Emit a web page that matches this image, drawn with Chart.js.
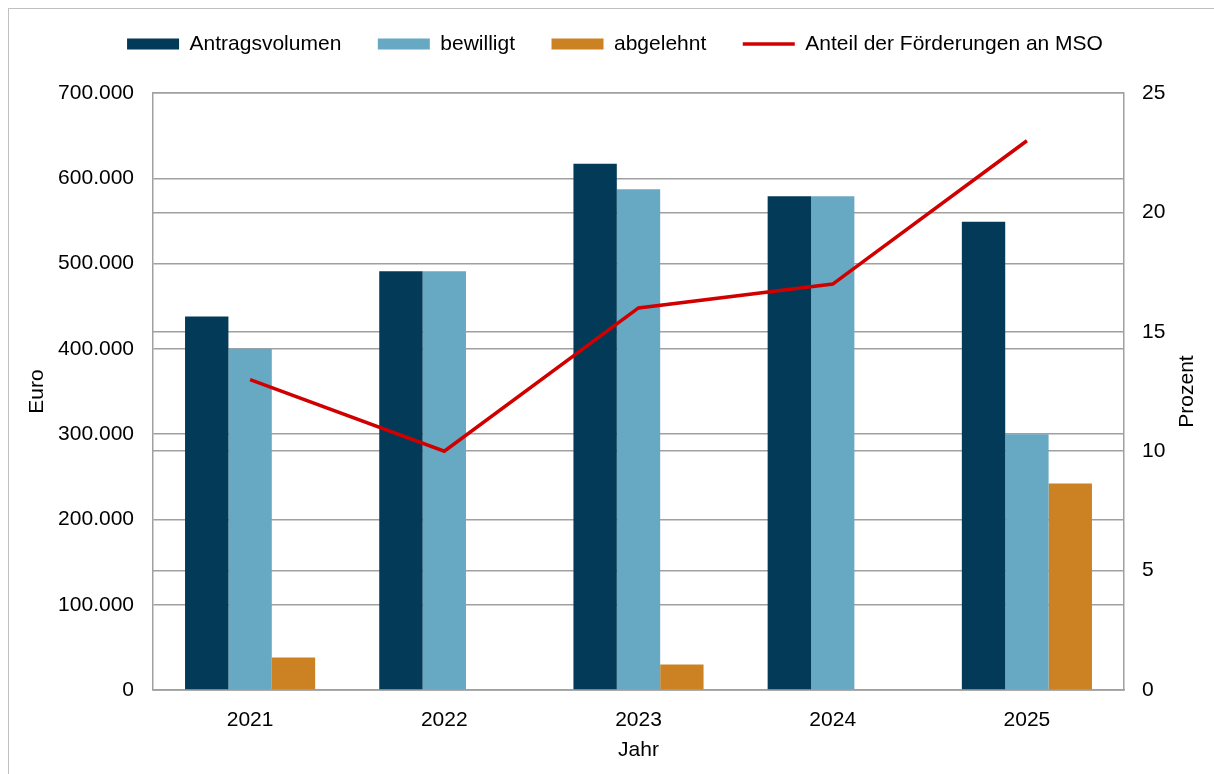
<!DOCTYPE html>
<html lang="de">
<head>
<meta charset="utf-8">
<title>Antragsvolumen</title>
<script src="https://cdn.jsdelivr.net/npm/chart.js@4/dist/chart.umd.min.js"></script>
<style>
  html, body { margin: 0; padding: 0; background: #fff; overflow: hidden; }
  #rahmen { position: absolute; left: 8px; top: 8px; width: 1300px; height: 900px; border: 1px solid #c0c0c0; }
  #wrap { position: absolute; left: 0; top: 0; width: 1214px; height: 774px; }
</style>
</head>
<body>
<div id="rahmen"></div>
<div id="wrap"><canvas id="foerderChart"></canvas></div>
<script>
// Werte
const jahre = ['2021', '2022', '2023', '2024', '2025'];
const antragsvolumen = [438000, 491000, 617000, 579000, 549000];
const bewilligt = [400000, 491000, 587000, 579000, 300000];
const abgelehnt = [38000, 0, 30000, 0, 242000];
const anteilMSO = [13, 10, 16, 17, 23];

const schrift = '"Liberation Sans", Arial, sans-serif';
Chart.defaults.font.family = schrift;
Chart.defaults.font.size = 21;
Chart.defaults.color = '#000';

function tausender(v) {
    return String(v).replace(/\B(?=(\d{3})+(?!\d))/g, '.');
}

// Legende: mehr Abstand nach unten, leicht verschoben wie im Original
const legendeLayout = {
    id: 'legendeLayout',
    beforeInit(chart) {
        const fitLegend = chart.legend.fit;
        chart.legend.fit = function () {
            fitLegend.call(this);
            this.height = 93;
        };
        const drawLegend = chart.legend.draw;
        chart.legend.draw = function () {
            const ctx = this.ctx;
            ctx.save();
            ctx.translate(8, -3);
            drawLegend.apply(this, arguments);
            ctx.restore();
        };
    }
};

// rechter Achsentitel, von unten nach oben gelesen
const rechterTitel = {
    id: 'rechterTitel',
    afterDraw(chart) {
        const s = chart.scales.y1;
        const ctx = chart.ctx;
        ctx.save();
        ctx.translate(s.right - 27, (s.top + s.bottom) / 2);
        ctx.rotate(-Math.PI / 2);
        ctx.font = '21px ' + schrift;
        ctx.fillStyle = '#000';
        ctx.textAlign = 'center';
        ctx.textBaseline = 'middle';
        ctx.fillText('Prozent', 0, 0);
        ctx.restore();
    }
};

const gitter = '#a0a0a0';

const ctx = document.getElementById('foerderChart').getContext('2d');
new Chart(ctx, {
    data: {
        labels: jahre,
        datasets: [
            {
                type: 'bar',
                label: 'Antragsvolumen',
                data: antragsvolumen,
                backgroundColor: '#023a58',
                pointStyle: 'rect',
                yAxisID: 'y',
                order: 1
            },
            {
                type: 'bar',
                label: 'bewilligt',
                data: bewilligt,
                backgroundColor: '#67a8c2',
                pointStyle: 'rect',
                yAxisID: 'y',
                order: 1
            },
            {
                type: 'bar',
                label: 'abgelehnt',
                data: abgelehnt,
                backgroundColor: '#cc8122',
                pointStyle: 'rect',
                yAxisID: 'y',
                order: 1
            },
            {
                type: 'line',
                label: 'Anteil der Förderungen an MSO',
                data: anteilMSO,
                borderColor: '#d10000',
                backgroundColor: '#d10000',
                borderWidth: 3.5,
                pointRadius: 0,
                pointStyle: 'line',
                tension: 0,
                yAxisID: 'y1',
                order: 0
            }
        ]
    },
    options: {
        responsive: true,
        maintainAspectRatio: false,
        animation: false,
        layout: { padding: 0 },
        datasets: {
            bar: {
                categoryPercentage: 0.67,
                barPercentage: 1.0
            }
        },
        plugins: {
            legend: {
                position: 'top',
                labels: {
                    usePointStyle: true,
                    pointStyleWidth: 52,
                    boxWidth: 52,
                    boxHeight: 11,
                    padding: 36.5,
                    color: '#000',
                    font: { size: 21 },
                    sort: (a, b) => a.datasetIndex - b.datasetIndex
                }
            },
            tooltip: { enabled: false }
        },
        scales: {
            x: {
                grid: { display: false },
                border: { display: true, color: gitter, width: 1.5 },
                ticks: { padding: 10, font: { size: 21 }, color: '#000' },
                title: {
                    display: true,
                    text: 'Jahr',
                    font: { size: 21 },
                    color: '#000',
                    padding: { top: 0, bottom: 11 }
                },
                afterFit: function (scale) {
                    scale.height = 84;
                }
            },
            y: {
                position: 'left',
                min: 0,
                max: 700000,
                ticks: {
                    stepSize: 100000,
                    padding: 19,
                    color: '#000',
                    font: { size: 21 },
                    callback: function (value) {
                        return tausender(value);
                    }
                },
                grid: { color: gitter, lineWidth: 1.5, drawTicks: false },
                border: { display: true, color: gitter, width: 1.5 },
                title: {
                    display: true,
                    text: 'Euro',
                    font: { size: 21 },
                    color: '#000',
                    padding: { top: 25, bottom: 0 }
                },
                afterFit: function (scale) {
                    scale.width = 153;
                }
            },
            y1: {
                position: 'right',
                min: 0,
                max: 25,
                ticks: {
                    stepSize: 5,
                    padding: 18,
                    color: '#000',
                    font: { size: 21 }
                },
                grid: { color: gitter, lineWidth: 1.5, drawTicks: false },
                border: { display: true, color: gitter, width: 1.5 },
                afterFit: function (scale) {
                    scale.width = 90;
                }
            }
        }
    },
    plugins: [legendeLayout, rechterTitel]
});
</script>
</body>
</html>
